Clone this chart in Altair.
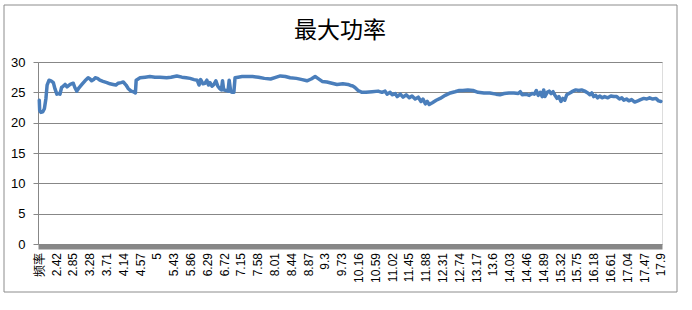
import altair as alt
import pandas as pd

freq = [1.99, 2.00, 2.03, 2.08, 2.12, 2.16, 2.19, 2.24, 2.29, 2.35, 2.39, 2.44, 2.48, 2.52, 2.56, 2.60,
        2.65, 2.70, 2.78, 2.86, 2.90, 2.95, 2.99, 3.08, 3.16, 3.24, 3.29, 3.33, 3.38, 3.42, 3.48, 3.54,
        3.62, 3.72, 3.80, 3.88, 3.95, 4.01, 4.08, 4.14, 4.21, 4.27, 4.34, 4.40, 4.45, 4.47, 4.52, 4.57,
        4.70, 4.82, 4.95, 5.08, 5.25, 5.36, 5.51, 5.64, 5.75, 5.85, 5.95, 6.03, 6.08, 6.12, 6.18, 6.23,
        6.28, 6.32, 6.36, 6.41, 6.46, 6.51, 6.56, 6.61, 6.65, 6.68, 6.71, 6.77, 6.82, 6.85, 6.89, 6.93,
        6.97, 7.00, 7.08, 7.18, 7.30, 7.45, 7.60, 7.75, 7.91, 8.06, 8.16, 8.29, 8.41, 8.57, 8.72, 8.84,
        8.95, 9.05, 9.12, 9.23, 9.35, 9.48, 9.61, 9.76, 9.89, 9.97, 10.00, 10.07, 10.15, 10.25, 10.35,
        10.51, 10.66, 10.76, 10.84, 10.89, 10.97, 11.02, 11.10, 11.15, 11.23, 11.30, 11.38, 11.46, 11.53,
        11.61, 11.69, 11.76, 11.81, 11.87, 11.92, 11.97, 12.05, 12.15, 12.25, 12.38, 12.51, 12.63, 12.74,
        12.83, 12.96, 13.09, 13.22, 13.37, 13.52, 13.68, 13.78, 13.89, 14.01, 14.14, 14.25, 14.30, 14.35,
        14.45, 14.53, 14.60, 14.66, 14.71, 14.76, 14.81, 14.86, 14.90, 14.93, 14.99, 15.04, 15.09, 15.14,
        15.19, 15.24, 15.29, 15.34, 15.39, 15.44, 15.49, 15.57, 15.65, 15.72, 15.80, 15.87, 15.95, 16.03,
        16.08, 16.13, 16.18, 16.23, 16.28, 16.34, 16.39, 16.46, 16.54, 16.62, 16.69, 16.77, 16.84, 16.90,
        16.95, 17.02, 17.08, 17.15, 17.23, 17.31, 17.38, 17.46, 17.54, 17.61, 17.69, 17.77, 17.84, 17.90]

power = [23.7, 22.0, 21.7, 21.8, 22.3, 24.0, 26.2, 27.0, 26.9, 26.6, 25.6, 24.7, 24.8, 24.7, 25.8, 26.0,
         26.3, 25.9, 26.3, 26.5, 25.8, 25.2, 25.6, 26.3, 26.9, 27.4, 27.2, 26.9, 27.1, 27.4, 27.3, 27.0,
         26.8, 26.6, 26.4, 26.3, 26.2, 26.5, 26.6, 26.7, 26.2, 25.6, 25.2, 25.1, 24.9, 27.0, 27.2, 27.4,
         27.5, 27.6, 27.5, 27.5, 27.4, 27.5, 27.7, 27.5, 27.4, 27.3, 27.1, 27.0, 26.2, 27.1, 26.4, 26.5,
         27.0, 26.2, 26.6, 26.0, 26.3, 26.9, 26.0, 25.6, 25.4, 26.9, 25.4, 25.3, 25.2, 27.0, 25.1, 25.0,
         25.0, 27.4, 27.5, 27.6, 27.6, 27.6, 27.5, 27.3, 27.2, 27.5, 27.7, 27.6, 27.4, 27.3, 27.1, 26.9,
         27.2, 27.6, 27.3, 26.8, 26.7, 26.5, 26.3, 26.4, 26.3, 26.1, 26.1, 25.8, 25.3, 25.0, 25.0,
         25.1, 25.2, 25.0, 25.2, 24.7, 25.0, 24.6, 24.8, 24.3, 24.7, 24.2, 24.6, 24.1, 24.4,
         23.9, 24.2, 23.5, 23.9, 23.1, 23.5, 23.0, 23.3, 23.7, 24.0, 24.5, 24.9, 25.1, 25.3,
         25.3, 25.4, 25.3, 25.0, 24.9, 24.9, 24.7, 24.6, 24.8, 24.9, 24.9, 24.8, 25.1, 24.6,
         24.7, 24.5, 24.8, 24.7, 25.3, 24.5, 25.0, 24.3, 25.4, 24.3, 25.0, 25.2, 24.8, 25.1,
         24.5, 24.0, 24.3, 23.5, 24.0, 23.7, 24.6, 24.9, 25.2, 25.4, 25.3, 25.4, 25.2, 24.9,
         24.6, 24.9, 24.3, 24.5, 24.1, 24.4, 24.1, 24.3, 24.1, 24.4, 24.3, 24.3, 23.9, 24.1,
         23.7, 23.9, 23.6, 23.8, 23.4, 23.6, 23.8, 24.0, 23.9, 24.1, 23.9, 24.0, 23.6, 23.5]

tick_labels = ["频率", "2.42", "2.85", "3.28", "3.71", "4.14", "4.57", "5", "5.43", "5.86", "6.29",
               "6.72", "7.15", "7.58", "8.01", "8.44", "8.87", "9.3", "9.73", "10.16", "10.59",
               "11.02", "11.45", "11.88", "12.31", "12.74", "13.17", "13.6", "14.03", "14.46",
               "14.89", "15.32", "15.75", "16.18", "16.61", "17.04", "17.47", "17.9"]
tick_values = [1.99] + [float(t) for t in tick_labels[1:]]

chart_title = "最大功率"

df = pd.DataFrame({"freq": freq, "power": power})

line = alt.Chart(df).mark_line(
    color="#4a7ebb", strokeWidth=3.5, strokeJoin="round", strokeCap="round"
).encode(
    x=alt.X("freq:Q",
            scale=alt.Scale(domain=[1.957, 17.928], zero=False, nice=False),
            axis=alt.Axis(values=tick_values, title=None, labelAngle=-90,
                          labelExpr="datum.value < 2 ? '频率' : format(datum.value, '.2~f')",
                          labelFont="Liberation Sans, Noto Sans CJK SC", labelFontSize=12,
                          labelColor="#000000", labelPadding=6, labelOverlap=False,
                          labelFlush=False, labelBound=False,
                          ticks=False, grid=False, domainColor="#878787",
                          domainWidth=5, offset=2.5)),
    y=alt.Y("power:Q",
            scale=alt.Scale(domain=[0, 30], nice=False),
            axis=alt.Axis(values=[0, 5, 10, 15, 20, 25, 30], title=None,
                          labelFont="Liberation Sans", labelFontSize=13, labelColor="#000000",
                          labelPadding=8, tickSize=5, tickColor="#878787",
                          domainColor="#878787", gridColor="#878787", gridWidth=1)),
)

one = pd.DataFrame({"t": [chart_title]})

frame = alt.Chart(one).mark_rect(
    fill=None, stroke="#8c8c8c", strokeWidth=1
).encode(
    x=alt.value(-34), x2=alt.value(639), y=alt.value(-57), y2=alt.value(230)
)

title = alt.Chart(one).mark_text(
    font="Noto Sans CJK SC", fontSize=23, color="#000000",
    align="center", baseline="middle"
).encode(
    text="t:N", x=alt.value(302), y=alt.value(-31)
)

chart = alt.layer(frame, line, title).properties(
    width=624, height=182,
    autosize=alt.AutoSizeParams(type="none"),
    padding={"left": 38, "top": 62, "right": 30, "bottom": 66},
).configure_view(strokeWidth=0).configure(background="#ffffff")

chart.save("out.html", embed_options={"renderer": "svg", "actions": False})
